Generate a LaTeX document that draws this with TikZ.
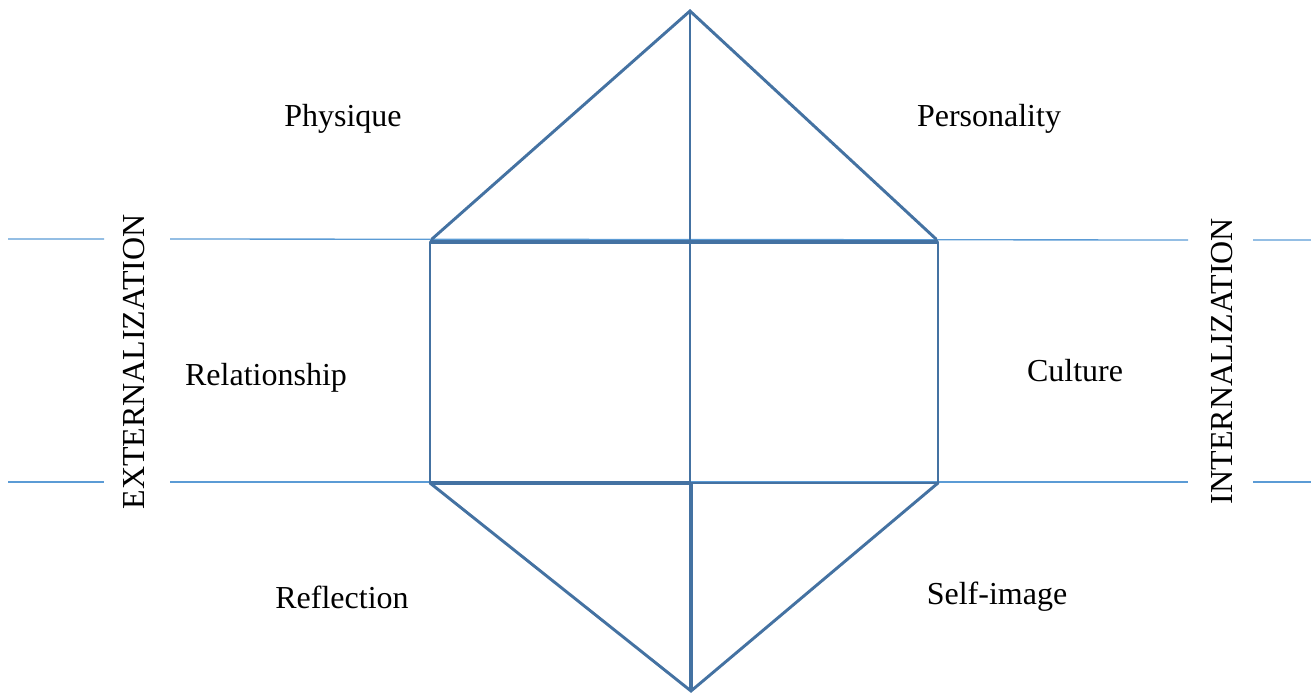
\documentclass[tikz,border=0pt]{standalone}
\usepackage{fontspec}
\setmainfont{Liberation Serif}
\definecolor{frame}{RGB}{68,114,162}
\definecolor{guide}{RGB}{91,155,213}
\begin{document}
\begin{tikzpicture}[x=0.75pt,y=-0.75pt,
  edge/.style={draw=frame,line width=2.2pt,line cap=round},
  heavy/.style={draw=frame,line width=3pt},
  guideline/.style={draw=guide,line width=1pt},
  lbl/.style={font=\fontsize{24}{28}\selectfont,inner sep=0pt},
  vlbl/.style={font=\fontsize{24}{28}\selectfont,inner sep=0pt,rotate=90}]
\useasboundingbox (0,0) rectangle (1311,693);
% key points of the figure
\coordinate (top) at (690,11);
\coordinate (bot) at (691,691);
\coordinate (tl) at (430,242);
\coordinate (tr) at (938,242);
\coordinate (bl) at (430,483);
\coordinate (br) at (938,483);
\coordinate (tm) at (690,242);
\coordinate (bm) at (691,483);
\coordinate (bmm) at (690,483);
\coordinate (ttl) at (432,239);
\coordinate (ttr) at (936,239);
% guide lines across the figure
\coordinate (g1a) at (8,239);   \coordinate (g1b) at (104,239);
\coordinate (g1c) at (170,239); \coordinate (g1d) at (1188,240);
\coordinate (g1e) at (1253,240); \coordinate (g1f) at (1311,240);
\coordinate (g2a) at (8,482);   \coordinate (g2b) at (104,482);
\coordinate (g2c) at (170,482); \coordinate (g2d) at (1188,482);
\coordinate (g2e) at (1253,482); \coordinate (g2f) at (1311,482);
\draw[guideline] (g1a) -- (g1b) (g1c) -- (g1d) (g1e) -- (g1f);
\draw[guideline] (g2a) -- (g2b) (g2c) -- (g2d) (g2e) -- (g2f);
% upper triangle
\draw[edge] (ttl) -- (top) -- (ttr);
\draw[edge] (top) -- (tm);
% central rectangle
\draw[heavy] (tl) -- (tr);
\draw[edge] (tl) -- (bl);
\draw[edge] (tr) -- (br);
\draw[edge] (tm) -- (bmm);
\draw[heavy] (bl) -- (bm);
\draw[edge] (bm) -- (br);
% lower triangle
\draw[edge] (bl) -- (bot) -- (br);
\draw[heavy] (bm) -- (bot);
% labels
\node[lbl] (physique) at (343,119) {Physique};
\node[lbl] (personality) at (989,119) {Personality};
\node[lbl] (relationship) at (266,378) {Relationship};
\node[lbl] (culture) at (1075,371) {Culture};
\node[lbl] (reflection) at (342,597) {Reflection};
\node[lbl] (selfimage) at (997,597) {Self-image};
\node[vlbl] (ext) at (134,362) {EXTERNALIZATION};
\node[vlbl] (int) at (1222,361) {INTERNALIZATION};
\end{tikzpicture}
\end{document}
